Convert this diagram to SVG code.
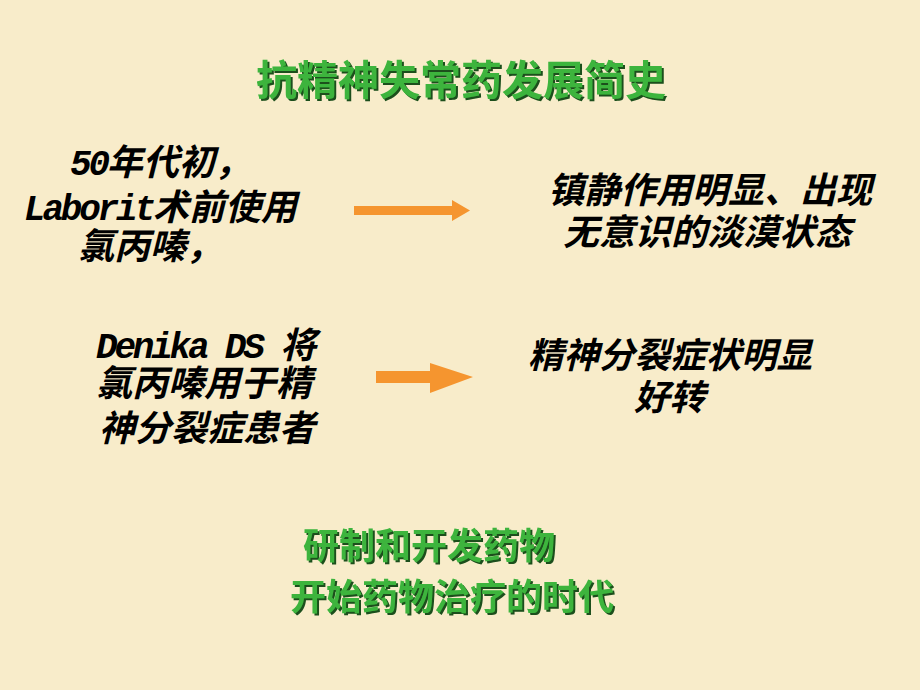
<svg xmlns="http://www.w3.org/2000/svg" width="920" height="690" viewBox="0 0 920 690">
<defs>
<filter id="shadow" x="-5%" y="-20%" width="110%" height="140%">
<feDropShadow dx="2" dy="2" stdDeviation="0.6" flood-color="#1a4f1a" flood-opacity="1"/>
</filter>
</defs>
<style>
.bk{font-family:"Liberation Mono","Noto Sans CJK SC",monospace;font-weight:bold;font-style:italic;fill:#000;}
.lt{letter-spacing:-3.2px;}
.gr{font-family:"Noto Sans CJK SC","Noto Sans CJK JP",sans-serif;font-weight:bold;fill:#3cb43c;filter:url(#shadow);}
.arr{fill:#f5952f;}
</style>
<rect width="920" height="690" fill="#f8ecca"/>
<g id="title" class="gr" font-size="41">
<text x="461" y="95" text-anchor="middle">抗精神失常药发展简史</text>
</g>
<g id="node-laborit" class="bk" font-size="36">
<text x="70" y="175"><tspan class="lt">50</tspan>年代初，</text>
<text x="24" y="220"><tspan class="lt">Laborit</tspan>术前使用</text>
<text x="78" y="259">氯丙嗪，</text>
</g>
<g id="node-sedation" class="bk" font-size="36">
<text x="548" y="203">镇静作用明显、出现</text>
<text x="563" y="245">无意识的淡漠状态</text>
</g>
<g id="node-denika" class="bk" font-size="36">
<text x="96" y="358"><tspan class="lt">Denika DS </tspan>将</text>
<text x="96" y="396">氯丙嗪用于精</text>
<text x="99" y="441">神分裂症患者</text>
</g>
<g id="node-improve" class="bk" font-size="35.5">
<text x="528" y="368">精神分裂症状明显</text>
<text x="634" y="410">好转</text>
</g>
<g id="node-era" class="gr" font-size="36">
<text x="303" y="559">研制和开发药物</text>
<text x="290" y="610">开始药物治疗的时代</text>
</g>
<g id="connectors">
<polygon class="arr" points="354,206 452,206 452,200 470,210.5 452,221 452,215 354,215"/>
<polygon class="arr" points="376,371 430,371 430,363 473,377 430,393 430,383 376,383"/>
</g>
</svg>
